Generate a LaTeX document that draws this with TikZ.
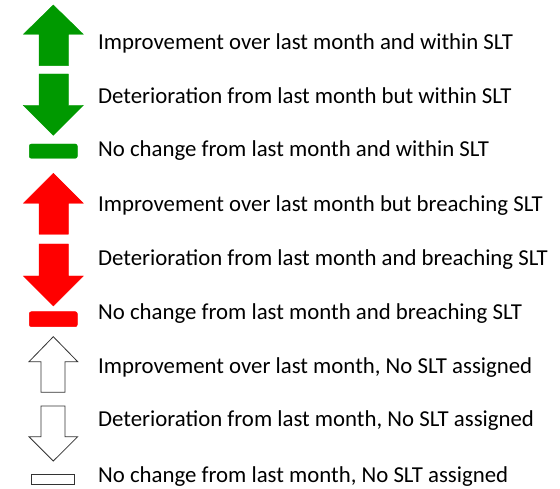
\documentclass[tikz,border=0pt]{standalone}
\usepackage{fontspec}
\setmainfont{Carlito}
\definecolor{okgreen}{RGB}{0,153,0}
\definecolor{badred}{RGB}{255,0,0}
\begin{document}
\begin{tikzpicture}[x=1pt,y=-1pt,
  lbl/.style={anchor=base west,inner sep=0pt,font=\fontsize{22.8}{25}\selectfont},
  gshape/.style={fill=okgreen,draw=okgreen,line width=0.4pt},
  rshape/.style={fill=badred,draw=badred,line width=0.4pt},
  wshape/.style={fill=white,draw=black!80,line width=0.8pt,line join=miter}]
\useasboundingbox (0,0) rectangle (560,489);
% green
\draw[gshape] (53.3,5) -- (83.3,34.3) -- (68.3,34.3) -- (68.3,65.7) -- (39,65.7) -- (39,34.3) -- (23.3,34.3) -- cycle;
\draw[gshape] (39,74) -- (68.3,74) -- (68.3,105.3) -- (83.3,105.3) -- (53.3,135.3) -- (23.3,105.3) -- (39,105.3) -- cycle;
\draw[gshape,rounded corners=2pt] (29.3,144) rectangle (77.3,158.3);
% red
\draw[rshape] (53.3,173.3) -- (83.3,203.3) -- (68.3,203.3) -- (68.3,234.3) -- (39,234.3) -- (39,203.3) -- (23.3,203.3) -- cycle;
\draw[rshape] (39,244) -- (68.3,244) -- (68.3,276) -- (83.3,276) -- (53.3,306) -- (23.3,276) -- (39,276) -- cycle;
\draw[rshape,rounded corners=2pt] (29.3,311.7) rectangle (77.3,326.7);
% white
\draw[wshape] (53.3,336.7) -- (77.7,361.7) -- (65,361.7) -- (65,392.3) -- (41,392.3) -- (41,361.7) -- (29,361.7) -- cycle;
\draw[wshape] (41,406) -- (65,406) -- (65,436.7) -- (77.7,436.7) -- (53.3,461) -- (29,436.7) -- (41,436.7) -- cycle;
\draw[wshape] (31.7,474) rectangle (74,484);
% labels
\node[lbl] (t1) at (98,49.5) {Improvement over last month and within SLT};
\node[lbl] (t2) at (98,103.5) {Deterioration from last month but within SLT};
\node[lbl] (t3) at (98,156.5) {No change from last month and within SLT};
\node[lbl] (t4) at (98,211.5) {Improvement over last month but breaching SLT};
\node[lbl] (t5) at (98,265.5) {Deterioration from last month and breaching SLT};
\node[lbl] (t6) at (98,319.5) {No change from last month and breaching SLT};
\node[lbl] (t7) at (98,373.5) {Improvement over last month, No SLT assigned};
\node[lbl] (t8) at (98,426.5) {Deterioration from last month, No SLT assigned};
\node[lbl] (t9) at (98,482) {No change from last month, No SLT assigned};
\end{tikzpicture}
\end{document}
